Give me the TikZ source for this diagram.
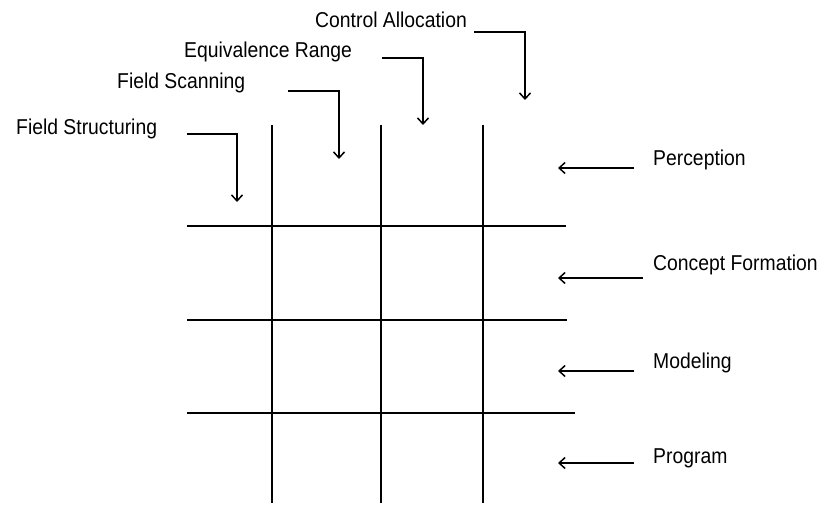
\documentclass[tikz,border=0pt]{standalone}
\usepackage{fontspec}
\setmainfont{Liberation Sans}[FakeStretch=0.9]
\usetikzlibrary{arrows.meta}
\begin{document}
\begin{tikzpicture}[x=1pt,y=-1pt,
  lbl/.style={inner sep=0pt,anchor=base west,font=\fontsize{21.5}{24}\selectfont},
  gridline/.style={line width=1.6pt},
  arr/.style={line width=1.6pt,-{Straight Barb[length=6pt,width=11pt,line width=1.5pt]}}]
\useasboundingbox (0,0) rectangle (821,505);
% grid
\coordinate (v1t) at (272,125); \coordinate (v1b) at (272,503);
\coordinate (v2t) at (381,125); \coordinate (v2b) at (381,503);
\coordinate (v3t) at (483,125); \coordinate (v3b) at (483,503);
\coordinate (h1l) at (187,226); \coordinate (h1r) at (566,226);
\coordinate (h2l) at (187,320); \coordinate (h2r) at (567,320);
\coordinate (h3l) at (187,413); \coordinate (h3r) at (575,413);
\draw[gridline] (v1t) -- (v1b);
\draw[gridline] (v2t) -- (v2b);
\draw[gridline] (v3t) -- (v3b);
\draw[gridline] (h1l) -- (h1r);
\draw[gridline] (h2l) -- (h2r);
\draw[gridline] (h3l) -- (h3r);
% top labels
\node[lbl] (fst) at (16,135) {Field Structuring};
\node[lbl] (fsc) at (117,89) {Field Scanning};
\node[lbl] (eqr) at (184,58) {Equivalence Range};
\node[lbl] (cal) at (315,28) {Control Allocation};
\coordinate (a1s) at (187,134); \coordinate (a1e) at (237,202);
\coordinate (a2s) at (288,91);  \coordinate (a2e) at (339,159);
\coordinate (a3s) at (382,58);  \coordinate (a3e) at (423,125);
\coordinate (a4s) at (474,32);  \coordinate (a4e) at (525,100);
\draw[arr] (a1s) -| (a1e);
\draw[arr] (a2s) -| (a2e);
\draw[arr] (a3s) -| (a3e);
\draw[arr] (a4s) -| (a4e);
% right labels
\node[lbl] (per) at (653,166) {Perception};
\node[lbl] (con) at (653,270) {Concept Formation};
\node[lbl] (mod) at (653,368) {Modeling};
\node[lbl] (pro) at (653,463) {Program};
\coordinate (b1s) at (634,168); \coordinate (b1e) at (558,168);
\coordinate (b2s) at (643,278); \coordinate (b2e) at (558,278);
\coordinate (b3s) at (634,371); \coordinate (b3e) at (558,371);
\coordinate (b4s) at (634,463); \coordinate (b4e) at (558,463);
\draw[arr] (b1s) -- (b1e);
\draw[arr] (b2s) -- (b2e);
\draw[arr] (b3s) -- (b3e);
\draw[arr] (b4s) -- (b4e);
\end{tikzpicture}
\end{document}
